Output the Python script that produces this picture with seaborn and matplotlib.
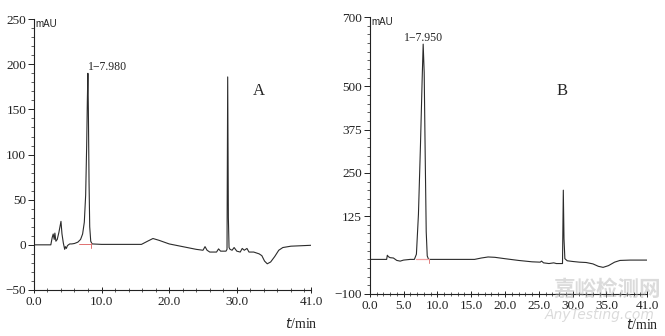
import numpy as np
import pandas as pd
import matplotlib
matplotlib.use("Agg")
import matplotlib.pyplot as plt
from matplotlib.ticker import MultipleLocator
import seaborn as sns

# %%
# chromatogram A, t in min, signal in mAU
t_a = [0, 2.5, 2.7, 2.85, 3.0, 3.1, 3.25, 3.45, 3.7, 3.85, 4.0, 4.15, 4.35,
       4.55, 4.65, 4.8, 4.95, 5.1, 5.3, 5.6, 6.0, 6.5, 6.9, 7.2, 7.45, 7.65,
       7.8, 7.9, 7.98, 8.05, 8.15, 8.25, 8.4, 8.6, 10, 15.9, 16.8, 17.6, 18.5,
       20, 22, 24, 25.0, 25.3, 25.6, 26.0, 27.0, 27.3, 27.6, 28.4, 28.55,
       28.65, 28.75, 28.85, 29.0, 29.3, 29.6, 30.0, 30.5, 30.8, 31.1, 31.5,
       31.8, 32.5, 33.3, 33.7, 34.1, 34.5, 35.0, 35.6, 36.2, 36.8, 38.0, 39.5,
       41.0]
y_a = [0, 0, 8, 12, 6, 13, 4, 6, 14, 20, 26, 12, 2,
       -5, -2, -4, -1, 0, 1, 1, 1.5, 3, 6, 12, 25, 55,
       110, 160, 190, 150, 70, 20, 4, 1, 0.5, 0.5, 4, 7, 5,
       1, -2, -5, -6, -2, -6, -8, -8, -4.5, -7, -7, -5,
       186, 30, -3, -5, -6, -3, -7, -8, -4, -6, -4,
       -8, -8, -10, -12, -18, -21, -19, -13, -6, -3, -1.5, -1,
       -0.5]

# chromatogram B
t_b = [0, 2.5, 2.6, 2.75, 3.0, 3.5, 4.0, 4.5, 5.0, 5.5, 6.0, 6.6, 6.9, 7.2,
       7.5, 7.75, 7.9, 8.05, 8.2, 8.35, 8.5, 8.7, 10, 15.5, 16.5, 17.5, 18.5,
       20, 22, 24, 25.2, 25.4, 25.7, 26.5, 27.2, 27.6, 28.5, 28.62, 28.72,
       28.85, 29.2, 30, 31, 32, 33, 33.8, 34.5, 35.3, 36.2, 37, 38.5, 41]
y_b = [0, 0, 12, 8, 5, 4, -3, -5, -2, -1, 0, 0, 15, 130,
       330, 520, 622, 540, 300, 80, 10, 0, 0, 0, 4, 7, 6,
       2, -3, -7, -8, -5, -10, -12, -10, -12, -12, 200, 60,
       2, -4, -6, -8, -9, -13, -20, -23, -18, -8, -3, -2, -2]

# integration baseline marks (red)
integ_a = [6.7, 8.45]
integ_b = [6.9, 8.75]

xticks_a = [0, 10, 20, 30, 41]
xticks_b = [0, 5, 10, 15, 20, 25, 30, 35, 41]
yticks_a = [-50, 0, 50, 100, 150, 200, 250]
yticks_b = [-100, 125, 250, 375, 500, 700]

df_a = pd.DataFrame({'t': t_a, 'mAU': y_a})
df_b = pd.DataFrame({'t': t_b, 'mAU': y_b})

# %%
sns.set_style("ticks")
serif = 'Liberation Serif'
plt.rcParams['font.family'] = [serif, 'DejaVu Sans']
plt.rcParams['axes.linewidth'] = 0.8

fig = plt.figure(figsize=(6.65, 3.36), dpi=100)
ax_a = fig.add_axes([0.051, 0.137, 0.417, 0.806])
ax_b = fig.add_axes([0.556, 0.125, 0.417, 0.824])

line_col = '#2b2b2b'


def style_axis(ax, xt, yt, ylim, xminor, yminor):
    ax.set_facecolor('none')
    ax.set_xlim(0, 41)
    ax.set_ylim(*ylim)
    ax.set_xticks(xt)
    ax.set_xticklabels(['{:.1f}'.format(v) for v in xt])
    ax.set_yticks(yt)
    ax.set_yticklabels([str(v).replace('-', '\u2212') for v in yt])
    ax.xaxis.set_minor_locator(MultipleLocator(xminor))
    ax.yaxis.set_minor_locator(MultipleLocator(yminor))
    ax.tick_params(axis='both', which='major', labelsize=9.5,
                   colors='#222222', length=4, width=0.7, pad=1.5)
    ax.tick_params(axis='x', which='major', direction='inout', length=5)
    ax.tick_params(axis='both', which='minor', length=2, width=0.6,
                   colors='#444444')
    ax.tick_params(axis='x', which='minor', direction='inout', length=3)
    sns.despine(ax=ax)
    for s in ['left', 'bottom']:
        ax.spines[s].set_color('#222222')
    ax.set_xlabel('')
    ax.set_ylabel('')
    ax.text(0.005, 1.0, 'mAU', transform=ax.transAxes, fontsize=7,
            family='Liberation Sans', va='top', ha='left', color='#222222')


sns.lineplot(data=df_a, x='t', y='mAU', ax=ax_a, color=line_col,
             linewidth=0.8, sort=False)
sns.lineplot(data=df_b, x='t', y='mAU', ax=ax_b, color=line_col,
             linewidth=0.8, sort=False)

ax_a.plot(integ_a, [0.8, 0.8], color='#e07070', lw=0.7)
ax_a.plot([integ_a[1], integ_a[1]], [-4, 2], color='#e07070', lw=0.7)
ax_b.plot(integ_b, [0, 0], color='#f0a0a0', lw=0.9)
ax_b.plot([integ_b[1], integ_b[1]], [-10, 2], color='#e08080', lw=0.7)

style_axis(ax_a, xticks_a, yticks_a, (-50, 250), 2, 10)
style_axis(ax_b, xticks_b, yticks_b, (-100, 700), 1, 25)

ax_a.text(8.0, 197, '1\u22127.980', fontsize=8.5, ha='left', va='center',
          color='#222222')
ax_b.text(7.9, 640, '1\u22127.950', fontsize=8.5, ha='center', va='center',
          color='#222222')
ax_a.text(33.3, 170, 'A', fontsize=12, ha='center', va='center')
ax_b.text(28.4, 487, 'B', fontsize=12, ha='center', va='center')

fig.text(0.478, 0.035, r'$\it{t}$/min', fontsize=10, ha='right',
         va='center', family=serif)
fig.text(0.99, 0.032, r'$\it{t}$/min', fontsize=10, ha='right',
         va='center', family=serif)

# watermark, drawn over the axes like in the source image
fig.text(0.913, 0.14, '嘉峪检测网', fontsize=15.5, ha='center', va='center',
         color='#b0b0b0', alpha=0.45,
         family=['Noto Sans CJK SC', 'DejaVu Sans'], fontweight='bold',
         zorder=10)
fig.text(0.902, 0.062, 'AnyTesting.com', fontsize=10, ha='center',
         va='center', color='#b0b0b0', alpha=0.45, style='italic',
         family='DejaVu Sans', zorder=10)

fig.savefig('out.png', dpi=100)
